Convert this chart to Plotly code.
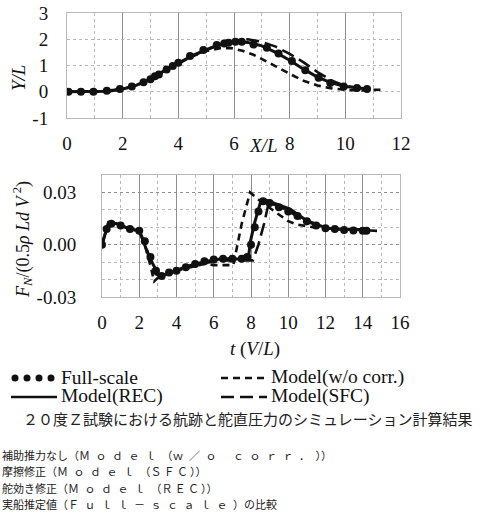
import plotly.graph_objects as go

W, H = 487, 513

# ---------------- Trajectory (top) ----------------
traj_full_x = [0.05, 0.5, 0.95, 1.43, 1.9, 2.33, 2.75, 3.0, 3.16, 3.3, 3.58, 3.8, 4.0, 4.42, 4.9, 5.38, 5.65, 5.8, 6.05, 6.28, 6.7, 7.18, 7.6, 8.08, 8.56, 9.04, 9.46, 9.94, 10.42, 10.78]
traj_full_y = [0.0, 0.0, 0.0, 0.04, 0.1, 0.2, 0.36, 0.48, 0.59, 0.66, 0.85, 0.98, 1.1, 1.36, 1.59, 1.78, 1.84, 1.87, 1.9, 1.9, 1.8, 1.68, 1.46, 1.17, 0.82, 0.53, 0.33, 0.2, 0.14, 0.1]

traj_rec_x = [0, 0.5, 1, 1.5, 2, 2.5, 3, 3.5, 4, 4.5, 5, 5.5, 6, 6.5, 7, 7.5, 8, 8.5, 9, 9.5, 10, 10.5, 10.9]
traj_rec_y = [0, 0, 0, 0.02, 0.1, 0.25, 0.48, 0.8, 1.08, 1.38, 1.6, 1.8, 1.9, 1.88, 1.75, 1.5, 1.2, 0.86, 0.56, 0.34, 0.2, 0.13, 0.1]

traj_wo_x = [0, 1, 2, 2.5, 3, 3.5, 4, 4.5, 5, 5.5, 5.9, 6.3, 6.7, 7.1, 7.5, 8, 8.5, 9, 9.5, 10, 10.5, 11, 11.3]
traj_wo_y = [0, 0, 0.1, 0.25, 0.48, 0.8, 1.08, 1.35, 1.55, 1.66, 1.66, 1.56, 1.41, 1.2, 0.97, 0.68, 0.42, 0.24, 0.13, 0.07, 0.05, 0.07, 0.08]

traj_sfc_x = [0, 1, 2, 2.5, 3, 3.5, 4, 4.5, 5, 5.5, 6, 6.5, 7, 7.5, 8, 8.5, 9, 9.5, 10, 10.5]
traj_sfc_y = [0, 0, 0.1, 0.25, 0.48, 0.8, 1.08, 1.36, 1.6, 1.8, 1.94, 2.0, 1.9, 1.72, 1.44, 1.12, 0.75, 0.43, 0.22, 0.14]

# ---------------- Rudder normal force (bottom) ----------------
fn_full_t = [0, 0.25, 0.5, 1, 1.5, 2, 2.3, 2.6, 2.9, 3.2, 3.6, 4, 4.5, 5, 5.5, 6, 6.5, 7, 7.5, 7.8, 8.0, 8.2, 8.4, 8.65, 9, 9.5, 10, 10.5, 11, 11.5, 12, 12.5, 13, 13.5, 14, 14.2]
fn_full_v = [0, 0.009, 0.012, 0.011, 0.009, 0.008, 0.002, -0.007, -0.015, -0.018, -0.016, -0.015, -0.013, -0.011, -0.0095, -0.0085, -0.008, -0.008, -0.008, -0.007, 0.0, 0.01, 0.019, 0.025, 0.024, 0.0215, 0.019, 0.0165, 0.0135, 0.011, 0.0095, 0.009, 0.0085, 0.0082, 0.008, 0.008]

fn_rec_t = [0, 0.35, 0.8, 1.5, 2.0, 2.25, 2.5, 2.85, 3.1, 3.6, 4.5, 5.5, 6.5, 7.6, 7.87, 7.96, 8.2, 8.5, 8.7, 10.1, 11, 12.1, 13, 14.2]
fn_rec_v = [0, 0.0128, 0.012, 0.009, 0.008, 0.0015, -0.006, -0.0136, -0.0183, -0.0164, -0.0126, -0.0098, -0.0079, -0.0083, -0.007, 0.0015, 0.0128, 0.024, 0.026, 0.0204, 0.0138, 0.0094, 0.0087, 0.0087]

fn_wo_t = [0, 0.35, 0.8, 1.5, 2.0, 2.3, 2.6, 2.8, 3.0, 3.5, 4.5, 5.5, 6.0, 7.05, 7.5, 7.95, 8.5, 9.0, 9.5, 10.0, 10.5, 11.0, 11.5, 12, 13, 14, 14.9]
fn_wo_v = [0, 0.0128, 0.012, 0.009, 0.008, 0.0, -0.012, -0.021, -0.019, -0.0165, -0.0135, -0.011, -0.0117, -0.0117, 0.012, 0.030, 0.025, 0.021, 0.017, 0.0135, 0.0115, 0.0105, 0.0098, 0.0094, 0.0088, 0.0083, 0.0079]

fn_sfc_t = [0, 0.35, 0.8, 1.5, 2.0, 2.3, 2.6, 2.9, 3.2, 3.6, 4.5, 5.5, 6.5, 7.5, 8.1, 8.4, 8.7, 8.95, 9.5, 10, 10.5, 11, 11.5, 12, 13, 14]
fn_sfc_v = [0, 0.0128, 0.012, 0.009, 0.008, 0.001, -0.009, -0.017, -0.0185, -0.0165, -0.013, -0.0105, -0.009, -0.009, -0.009, 0.0, 0.012, 0.024, 0.022, 0.0195, 0.016, 0.0135, 0.011, 0.0095, 0.0087, 0.0083]

top_xticks = [0, 2, 4, 6, 8, 10, 12]
top_yticks = [-1, 0, 1, 2, 3]
top_ylabels = ["-1", "0", "1", "2", "3"]
bot_xticks = [0, 2, 4, 6, 8, 10, 12, 14, 16]
bot_yticks = [-0.03, 0.0, 0.03]
bot_ylabels = ["-0.03", "0.00", "0.03"]

names = ["Full-scale", "Model(w/o corr.)", "Model(REC)", "Model(SFC)"]

SERIF = "Liberation Serif"
CJK = "Noto Sans CJK JP"
BLK = "#111111"
DASH_WO = "7px,5px"
DASH_SFC = "13px,6px"

fig = go.Figure()

def add_set(xa, ya, full, rec, wo, sfc):
    fig.add_trace(go.Scatter(x=rec[0], y=rec[1], mode="lines", name=names[2],
                             line=dict(color=BLK, width=3), xaxis=xa, yaxis=ya))
    fig.add_trace(go.Scatter(x=wo[0], y=wo[1], mode="lines", name=names[1],
                             line=dict(color=BLK, width=2.6, dash=DASH_WO), xaxis=xa, yaxis=ya))
    fig.add_trace(go.Scatter(x=sfc[0], y=sfc[1], mode="lines", name=names[3],
                             line=dict(color=BLK, width=2.6, dash=DASH_SFC), xaxis=xa, yaxis=ya))
    fig.add_trace(go.Scatter(x=full[0], y=full[1], mode="markers", name=names[0],
                             marker=dict(color=BLK, size=8), xaxis=xa, yaxis=ya))

add_set("x", "y", (traj_full_x, traj_full_y), (traj_rec_x, traj_rec_y),
        (traj_wo_x, traj_wo_y), (traj_sfc_x, traj_sfc_y))
add_set("x2", "y2", (fn_full_t, fn_full_v), (fn_rec_t, fn_rec_v),
        (fn_wo_t, fn_wo_v), (fn_sfc_t, fn_sfc_v))

MAJ = "#8f8f8f"
MIN = "#b8b8b8"

def px_x(p):
    return p / W

def px_y(p):
    return 1 - p / H

tickfont = dict(family=SERIF, size=19, color=BLK)
common = dict(zeroline=False, showline=True, mirror=True, linecolor=MIN, linewidth=1,
              ticks="", tickfont=tickfont, automargin=False, fixedrange=True)

fig.update_layout(
    width=W, height=H, margin=dict(l=0, r=0, t=0, b=0),
    paper_bgcolor="white", plot_bgcolor="white",
    showlegend=False,
    xaxis=dict(domain=[px_x(67), px_x(401)], range=[0, 12], anchor="y",
               tickvals=top_xticks, showgrid=True, gridcolor=MAJ, gridwidth=1,
               minor=dict(dtick=1, tick0=0, showgrid=True, gridcolor=MIN, griddash="dot"),
               ticklabelstandoff=8, **common),
    yaxis=dict(domain=[px_y(118), px_y(13)], range=[-1, 3], anchor="x",
               tickvals=top_yticks, ticktext=top_ylabels, showgrid=True, gridcolor=MIN,
               griddash="dot", ticklabelstandoff=14, **common),
    xaxis2=dict(domain=[px_x(102), px_x(400)], range=[0, 16], anchor="y2",
                tickvals=bot_xticks, showgrid=True, gridcolor=MAJ, gridwidth=1,
                minor=dict(dtick=1, tick0=0, showgrid=True, gridcolor=MIN, griddash="dot"),
                ticklabelstandoff=8, **common),
    yaxis2=dict(domain=[px_y(297), px_y(175)], range=[-0.03, 0.04], anchor="x2",
                tickvals=bot_yticks, ticktext=bot_ylabels, showgrid=True, gridcolor=MAJ,
                griddash="dot",
                minor=dict(dtick=0.01, tick0=-0.03, showgrid=True, gridcolor=MIN, griddash="dot"),
                ticklabelstandoff=21, **common),
)

def A(text, x, y, size=19, family=SERIF, angle=0, xanchor="center", color=BLK):
    return dict(text=text, x=px_x(x), y=px_y(y), xref="paper", yref="paper",
                xanchor=xanchor, yanchor="middle", textangle=angle, showarrow=False,
                font=dict(family=family, size=size, color=color))

ann = [
    A("<i>Y/L</i>", 18, 78, angle=-90),
    A("<i>X/L</i>", 263, 145),
    A("<i>t</i> (<i>V</i>/<i>L</i>)", 255, 349),
    A("<i>F<sub>N</sub></i>/(0.5<i>ρ Ld V</i><sup> 2</sup>)", 22, 240, size=18, angle=-90),
]

# legend (drawn manually, two columns)
leg_rows = [377, 396]
ann += [
    A(names[0], 59, leg_rows[0], size=19.5, xanchor="left"),
    A(names[1], 269, leg_rows[0], size=19.5, xanchor="left"),
    A(names[2], 59, leg_rows[1], size=19.5, xanchor="left"),
    A(names[3], 269, leg_rows[1], size=19.5, xanchor="left"),
]
shapes = []
for cx in [15, 27, 39, 51]:
    shapes.append(dict(type="circle", xref="paper", yref="paper",
                       x0=px_x(cx - 3.5), x1=px_x(cx + 3.5), y0=px_y(leg_rows[0] + 4.5), y1=px_y(leg_rows[0] - 2.5),
                       fillcolor=BLK, line=dict(width=0)))
shapes.append(dict(type="line", xref="paper", yref="paper", x0=px_x(221), x1=px_x(267),
                   y0=px_y(leg_rows[0] + 1), y1=px_y(leg_rows[0] + 1), line=dict(color=BLK, width=2.6, dash=DASH_WO)))
shapes.append(dict(type="line", xref="paper", yref="paper", x0=px_x(11), x1=px_x(57),
                   y0=px_y(leg_rows[1] + 1), y1=px_y(leg_rows[1] + 1), line=dict(color=BLK, width=2.6)))
shapes.append(dict(type="line", xref="paper", yref="paper", x0=px_x(221), x1=px_x(267),
                   y0=px_y(leg_rows[1] + 1), y1=px_y(leg_rows[1] + 1), line=dict(color=BLK, width=2.6, dash=DASH_SFC)))

caption = "２０度Ｚ試験における航跡と舵直圧力のシミュレーション計算結果"
ann.append(A(caption, 247, 418, size=15, family=CJK, color="#222222"))

EN = "\u2002"
TH = "\u2009"
def spaced(s, sp):
    return "".join(c + sp for c in s)

lines = [
    "補助推力なし（" + spaced("Ｍｏｄｅｌ", EN) + "（" + spaced("ｗ／ｏ", EN) + "　" + spaced("ｃｏｒｒ．", EN) + "））",
    "摩擦修正（" + spaced("Ｍｏｄｅｌ", EN) + "（" + spaced("ＳＦＣ", TH) + "））",
    "舵効き修正（" + spaced("Ｍｏｄｅｌ", EN) + "（" + spaced("ＲＥＣ", TH) + "））",
    "実船推定値（" + spaced("Ｆｕｌｌ－ｓｃａｌｅ", EN) + "）の比較",
]
for i, s in enumerate(lines):
    ann.append(A(s, 0, 455 + 16.4 * i, size=11, family=CJK, xanchor="left", color="#222222"))

fig.update_layout(annotations=ann, shapes=shapes)

fig.write_html("out.html", config={"displayModeBar": False, "staticPlot": True},
               post_script="document.body.style.margin='0';document.documentElement.style.overflow='hidden';")
